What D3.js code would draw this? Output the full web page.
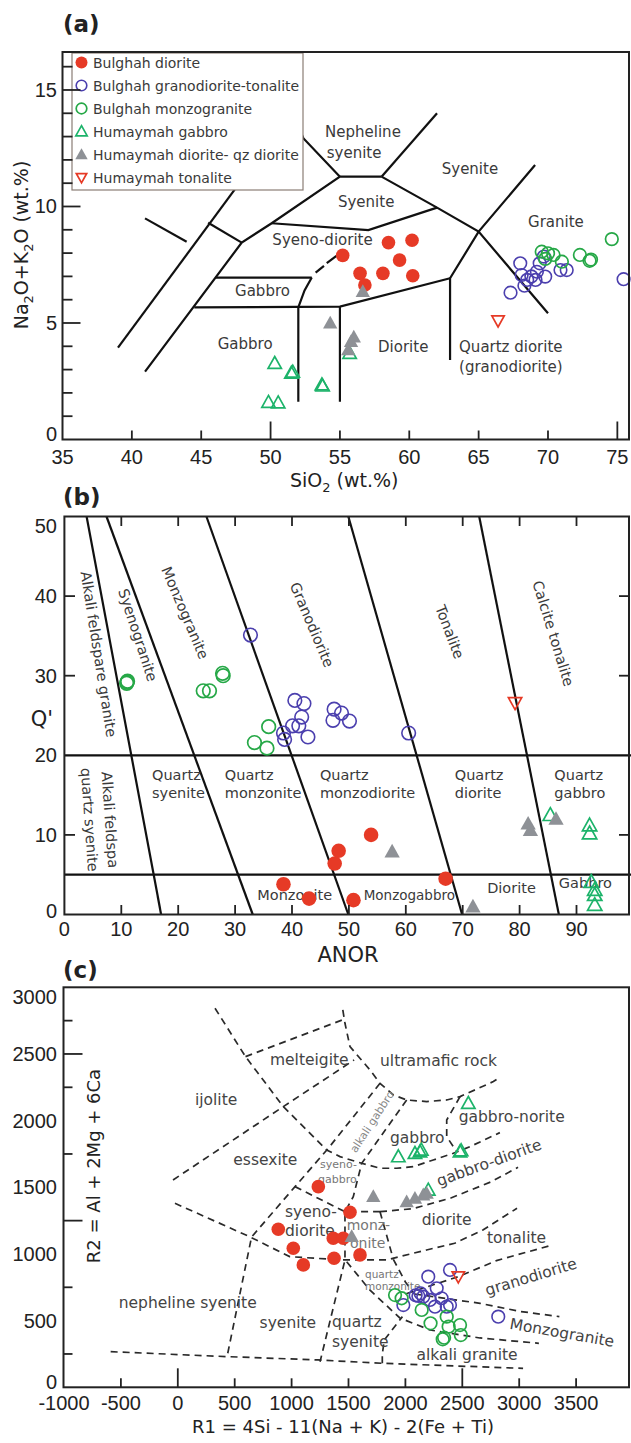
<!DOCTYPE html>
<html>
<head>
<meta charset="utf-8">
<script src="https://cdn.jsdelivr.net/npm/d3@7"></script>
<style>body{margin:0;background:#fff}</style>
</head>
<body>
<script>
// ---------- (a) TAS data ----------
var tasBulghahDiorite = [[55.2,7.9],[58.5,8.45],[60.2,8.55],[59.3,7.7],[56.45,7.13],[58.1,7.13],[60.25,7.03],[56.8,6.63]];
var tasGranodiorite = [[67.3,6.3],[68.0,7.56],[68.1,7.06],[68.5,6.85],[68.3,6.6],[69.1,6.85],[69.4,7.56],[69.8,6.99],[69.7,7.85],[69.2,7.2],[70.9,7.27],[71.35,7.27],[75.45,6.88],[68.8,7.0]];
var tasMonzogranite = [[69.55,8.06],[70.0,7.99],[70.4,7.92],[71.0,7.63],[72.3,7.92],[73.0,7.67],[73.1,7.72],[74.6,8.6],[69.8,7.75]];
var tasGabbro = [[50.3,3.27],[51.5,2.85],[51.6,2.9],[53.7,2.35],[53.75,2.3],[49.85,1.6],[50.55,1.58],[55.7,3.7]];
var tasQzDiorite = [[56.65,6.35],[54.3,5.0],[56.0,4.4],[55.8,4.2],[55.6,3.85]];
var tasTonalite = [[66.4,5.1]];
var tasLines = [
  [[39.0,3.94],[48.5,11.6]],
  [[40.95,2.91],[47.92,8.45],[50.08,9.28],[55.0,11.28],[58.0,11.28]],
  [[40.95,9.49],[43.95,8.49]],
  [[45.5,9.3],[47.92,8.45]],
  [[51.3,14.5],[52.36,12.93],[55.0,11.28]],
  [[58.0,11.28],[62.0,14.0]],
  [[58.0,11.28],[62.0,9.95],[65.0,8.92],[70.0,5.42]],
  [[69.07,11.78],[65.0,8.92],[62.94,6.92],[62.94,3.41]],
  [[50.08,9.28],[57.05,8.99],[62.0,9.95]],
  [[44.5,5.67],[55.0,5.70],[62.94,6.92]],
  [[55.0,5.70],[55.0,1.62]],
  [[52.0,5.67],[52.0,1.62]],
  [[46.05,6.95],[52.97,6.95]],
  [[52.0,5.67],[52.45,6.4],[52.97,6.95]],
  [[53.25,7.16],[53.85,7.45]],
  [[54.05,7.57],[54.75,7.88]]
];
var tasLabels = [
  ['Nepheline',53.93,12.98],['syenite',54.05,12.08],['Syenite',62.34,11.39],['Syenite',54.86,9.98],
  ['Syeno-diorite',50.13,8.35],['Gabbro',47.44,6.16],['Gabbro',46.19,3.88],['Diorite',57.75,3.77],
  ['Quartz diorite',63.59,3.76],['(granodiorite)',63.59,2.9],['Granite',68.56,9.12]
];
var tasXTicks = [35,40,45,50,55,60,65,70,75];
var tasYTicks = [0,5,10,15];
var legendNames = ['Bulghah diorite','Bulghah granodiorite-tonalite','Bulghah monzogranite','Humaymah gabbro','Humaymah diorite- qz diorite','Humaymah tonalite'];

// ---------- (b) Q'-ANOR data ----------
var qaDiorite = [[53.9,10.0],[48.2,8.0],[47.5,6.4],[38.5,3.8],[43.0,2.0],[50.8,1.8],[67.0,4.5]];
var qaGranodiorite = [[32.7,35.1],[40.5,26.9],[42.1,26.5],[41.7,24.8],[40.1,23.7],[41.2,23.7],[38.5,22.8],[38.7,22.0],[42.8,22.3],[47.4,25.8],[48.7,25.3],[47.2,24.4],[50.1,24.3],[60.5,22.8]];
var qaMonzogranite = [[10.95,29.05],[11.1,29.3],[11.0,29.2],[24.4,28.1],[25.5,28.1],[27.8,30.3],[27.9,30.0],[35.9,23.6],[33.4,21.6],[35.6,20.9]];
var qaGabbro = [[85.4,12.5],[92.3,11.2],[92.3,10.2],[92.6,4.1],[93.2,3.1],[93.2,2.45],[93.2,1.2]];
var qaQzDiorite = [[57.6,7.9],[81.5,11.4],[81.9,10.6],[86.4,12.0],[71.8,1.0]];
var qaTonalite = [[79.2,26.6]];
var qaLines = [
  [[3.9,50],[17.0,0]],[[7.4,50],[33.1,0]],[[24.96,50],[49.9,0]],[[49.9,50],[69.9,0]],[[72.9,50],[86.9,0]],
  [[0,20],[100,20]],[[0,5],[100,5]]
];
var qaRotLabels = [
  ['Alkali feldspare granite',6.0,32.7,81],['Syenogranite',12.9,35.1,72],['Monzogranite',21.2,37.9,67],
  ['Granodiorite',43.5,36.4,67],['Tonalite',67.7,35.5,69],['Calcite tonalite',85.9,35.3,73],
  ['Alkali feldspa',8.0,11.9,86],['quartz syenite',4.4,11.9,86]
];
var qaLabels = [
  ['Quartz',15.4,16.9],['syenite',15.4,14.6],['Quartz',28.2,16.9],['monzonite',28.2,14.6],
  ['Quartz',44.9,16.9],['monzodiorite',44.9,14.6],['Quartz',68.6,16.9],['diorite',68.6,14.6],
  ['Quartz',86.1,16.9],['gabbro',86.1,14.6],['Monzonite',33.9,1.8],['Diorite',74.3,2.7],['Gabbro',86.9,3.3]
];
var qaXTicks = [0,10,20,30,40,50,60,70,80,90];
var qaYTicks = [0,10,20,30,40,50];

// ---------- (c) R1-R2 data ----------
var raDiorite = [[1235,1505],[1513,1313],[883,1185],[1366,1118],[1454,1118],[1015,1043],[1373,968],[1601,993],[1103,918]];
var raGranodiorite = [[2392,880],[2201,830],[2275,743],[2114,685],[2157,680],[2216,655],[2318,668],[2363,605],[2392,617],[2260,605],[1982,617],[2816,530],[2090,690],[2133,705]];
var raMonzogranite = [[1909,692],[1967,668],[2143,580],[2221,480],[2363,530],[2380,455],[2480,467],[2487,392],[2328,360],[2340,372]];
var raGabbro = [[2553,2130],[1938,1730],[2084,1755],[2128,1767],[2140,1780],[2480,1767],[2490,1775],[2201,1480]];
var raQzDiorite = [[1718,1430],[2011,1392],[2084,1418],[2157,1443],[2187,1455],[1528,1130]];
var raTonalite = [[2465,830]];
var raLines = [
  [[-42,1555],[927,2105],[1549,2455]],
  [[595,2480],[1460,2760]],
  [[1450,2830],[1469,2730],[1513,2555],[1689,2380],[1777,2280],[1894,2193],[2011,2155],[2187,2143],[2363,2155],[2480,2180],[2773,2293],[2820,2320]],
  [[327,2843],[595,2480],[927,2105],[1308,1780],[1425,1730],[1616,1680],[1777,1643],[1923,1643],[2069,1655],[2245,1705],[2421,1755],[2568,1805],[2830,1910]],
  [[1777,2280],[1323,1793],[1030,1505],[648,1127],[436,243]],
  [[2011,2155],[1616,1680],[1542,1430],[1469,1317],[1469,955],[1250,192]],
  [[1030,1505],[1469,1317],[1777,1317]],
  [[-25,1380],[630,1130],[983,980],[1443,955],[1832,955],[2186,1030],[2433,1080],[2681,1180],[2981,1343]],
  [[1777,1317],[1894,960]],
  [[1777,1317],[2069,1340],[2400,1420],[2750,1540],[2990,1650]],
  [[2480,2180],[2363,2005],[2363,1880],[2451,1767]],
  [[-590,267],[436,230],[1231,205],[1797,180],[3034,142]],
  [[1797,180],[1797,250],[1815,355],[1974,530]],
  [[1484,942],[1687,730],[1951,520],[2215,430],[2654,370],[3173,330]],
  [[1894,960],[2000,790],[2080,700]],
  [[2000,700],[2465,830],[2800,950],[3260,1060]],
  [[2080,700],[2400,660],[2656,630],[3000,570],[3353,530]]
];
var raLabels = [
  ['melteigite',810,2418],['ultramafic rock',1777,2410],['ijolite',151,2118],['essexite',488,1668],
  ['gabbro',1865,1833],['gabbro-norite',2468,1990],['syeno-',942,1278],['diorite',942,1135],
  ['diorite',2143,1218],['tonalite',2717,1083],['nepheline syenite',-519,595],['syenite',719,445],
  ['quartz',1355,453],['syenite',1355,303],['alkali granite',2098,205]
];
var raSmallLabels = [['syeno-',1250,1645],['gabbro',1232,1533],['monz-',1484,1180],['onite',1513,1045],['quartz',1645,820],['monzonite',1645,730]];
var raRotLabels = [['gabbro-diorite',2735,1683,-20],['alkali gabbro',1698,1997,-57],['granodiorite',3104,827,-17],['Monzogranite',3376,408,10]];
var raXTicks = [-1000,-500,0,500,1000,1500,2000,2500,3000,3500];
var raYTicks = [0,500,1000,1500,2000,2500,3000];

// ---------- drawing ----------
var red = '#e63a26', blue = '#4b3fae', green = '#26a847', teal = '#1cb36a', gray = '#8e9196';
var ink = '#222', txt = '#3a3a3a';
var tickFont = 'Liberation Sans, Arial, sans-serif';

var svg = d3.select('body').append('svg')
    .attr('width', 631).attr('height', 1443)
    .style('font-family', 'DejaVu Sans, sans-serif');

function triPath(cx, cy, s, down) {
  var k = down ? -1 : 1;
  return 'M' + cx + ',' + (cy - k * s) + 'L' + (cx + s * 0.98) + ',' + (cy + k * s * 0.75) +
         'L' + (cx - s * 0.98) + ',' + (cy + k * s * 0.75) + 'Z';
}

function drawPoints(g, x, y, pts, kind, r) {
  pts.forEach(function(d) {
    var cx = x(d[0]), cy = y(d[1]);
    if (kind === 'dot') g.append('circle').attr('cx', cx).attr('cy', cy).attr('r', r).attr('fill', red);
    if (kind === 'blue') g.append('circle').attr('cx', cx).attr('cy', cy).attr('r', r).attr('fill', 'none').attr('stroke', blue).attr('stroke-width', 1.6);
    if (kind === 'green') g.append('circle').attr('cx', cx).attr('cy', cy).attr('r', r).attr('fill', 'none').attr('stroke', green).attr('stroke-width', 1.7);
    if (kind === 'tri') g.append('path').attr('d', triPath(cx, cy, r + 0.5)).attr('fill', 'none').attr('stroke', teal).attr('stroke-width', 1.7);
    if (kind === 'gray') g.append('path').attr('d', triPath(cx, cy, r + 1)).attr('fill', gray);
    if (kind === 'ton') g.append('path').attr('d', triPath(cx, cy, r, true)).attr('fill', 'none').attr('stroke', red).attr('stroke-width', 1.7);
  });
}

function drawAll(g, x, y, sets, r) {
  drawPoints(g, x, y, sets[0], 'dot', r + 0.5);
  drawPoints(g, x, y, sets[1], 'blue', r);
  drawPoints(g, x, y, sets[2], 'green', r);
  drawPoints(g, x, y, sets[3], 'tri', r);
  drawPoints(g, x, y, sets[4], 'gray', r);
  drawPoints(g, x, y, sets[5], 'ton', r);
}

function tick(g, x1, y1, x2, y2) {
  g.append('line').attr('x1', x1).attr('y1', y1).attr('x2', x2).attr('y2', y2)
    .attr('stroke', ink).attr('stroke-width', 1.8);
}

function label(g, t, x, y, size, anchor, fill) {
  return g.append('text').attr('x', x).attr('y', y).attr('font-size', size)
    .attr('text-anchor', anchor || 'start').attr('fill', fill || ink).text(t);
}

function tickLabel(g, t, x, y, anchor) {
  return label(g, t, x, y, 20, anchor).attr('font-family', tickFont);
}

// ===== panel (a) =====
var xA = d3.scaleLinear().domain([35, 75.84]).range([62.5, 629]);
var yA = d3.scaleLinear().domain([0, 16.63]).range([439.5, 52]);
var gA = svg.append('g');
var lineA = d3.line().x(function(d){ return xA(d[0]); }).y(function(d){ return yA(d[1]); });

gA.selectAll('path.bd').data(tasLines).enter().append('path')
  .attr('class', 'bd').attr('d', lineA).attr('fill', 'none').attr('stroke', '#111').attr('stroke-width', 2.2);

tasLabels.forEach(function(d) { label(gA, d[0], xA(d[1]), yA(d[2]), 15, 'start', txt); });

drawAll(gA, xA, yA, [tasBulghahDiorite, tasGranodiorite, tasMonzogranite, tasGabbro, tasQzDiorite, tasTonalite], 6.3);

// legend
var lg = gA.append('g');
lg.append('rect').attr('x', 72).attr('y', 53).attr('width', 231).attr('height', 137)
  .attr('fill', '#fff').attr('stroke', '#8a7d76').attr('stroke-width', 1.2);
var kinds = ['dot', 'blue', 'green', 'tri', 'gray', 'ton'];
legendNames.forEach(function(n, i) {
  var cy = 62.5 + i * 23;
  var one = d3.scaleLinear().domain([0, 1]).range([81.5, 82.5]);
  var oneY = d3.scaleLinear().domain([0, 1]).range([cy, cy + 1]);
  drawPoints(lg, one, oneY, [[0, 0]], kinds[i], i === 0 ? 6 : 5.3);
  label(lg, n, 93, cy + 5, 14, 'start', txt);
});

gA.append('rect').attr('x', 62.5).attr('y', 52).attr('width', 566.5).attr('height', 387.5)
  .attr('fill', 'none').attr('stroke', ink).attr('stroke-width', 2);

d3.range(1, 17).forEach(function(v) {
  tick(gA, 62.5, yA(v), 62.5 + (v % 5 === 0 ? 18 : 10), yA(v));
});
[40, 45, 50, 55, 60, 65, 70, 75].forEach(function(v) {
  tick(gA, xA(v), 439.5, xA(v), 439.5 - (v === 50 || v === 75 ? 18 : 9));
});
tasXTicks.forEach(function(v) { tickLabel(gA, v, xA(v), 464, 'middle'); });
tasYTicks.forEach(function(v) { tickLabel(gA, v, 57, (v === 0 ? yA(v) - 6 : yA(v)) + 7, 'end'); });

label(gA, '(a)', 63, 32, 23, 'start').attr('font-weight', 'bold');
var tA = label(gA, 'SiO', 290, 487, 19, 'start');
tA.append('tspan').attr('font-size', 13).attr('dy', 5).text('2');
tA.append('tspan').attr('dy', -5).text(' (wt.%)');
var yTa = gA.append('text').attr('transform', 'translate(28,245) rotate(-90)')
  .attr('text-anchor', 'middle').attr('font-size', 19).attr('fill', ink);
yTa.append('tspan').text('Na');
yTa.append('tspan').attr('font-size', 13).attr('dy', 5).text('2');
yTa.append('tspan').attr('dy', -5).text('O+K');
yTa.append('tspan').attr('font-size', 13).attr('dy', 5).text('2');
yTa.append('tspan').attr('dy', -5).text('O (wt.%)');

// ===== panel (b) =====
var xB = d3.scaleLinear().domain([0, 100]).range([64.4, 633.4]);
var yB = d3.scaleLinear().domain([0, 50]).range([914.5, 516.5]);
var gB = svg.append('g');
var lineB = d3.line().x(function(d){ return xB(d[0]); }).y(function(d){ return yB(d[1]); });

gB.selectAll('path.bd').data(qaLines).enter().append('path')
  .attr('class', 'bd').attr('d', lineB).attr('fill', 'none').attr('stroke', '#111').attr('stroke-width', 2.2);

qaRotLabels.forEach(function(d) {
  gB.append('text').attr('transform', 'translate(' + xB(d[1]) + ',' + yB(d[2]) + ') rotate(' + d[3] + ')')
    .attr('text-anchor', 'middle').attr('dy', 5).attr('font-size', 14.5).attr('fill', txt).text(d[0]);
});
qaLabels.forEach(function(d) { label(gB, d[0], xB(d[1]), yB(d[2]), 14.5, 'start', txt); });

drawAll(gB, xB, yB, [qaDiorite, qaGranodiorite, qaMonzogranite, qaGabbro, qaQzDiorite, qaTonalite], 6.8);
label(gB, 'Monzogabbro', xB(52.6), yB(1.8), 13.5, 'start', txt);

gB.append('rect').attr('x', 64.4).attr('y', 516.5).attr('width', 564.6).attr('height', 398)
  .attr('fill', 'none').attr('stroke', ink).attr('stroke-width', 2);
d3.range(10, 100, 10).forEach(function(v) {
  tick(gB, xB(v), 914.5, xB(v), 905);
  tick(gB, xB(v), 516.5, xB(v), 526);
});
[10, 30, 40].forEach(function(v) {
  tick(gB, 64.4, yB(v), 75, yB(v));
  tick(gB, 629, yB(v), 619, yB(v));
});
qaXTicks.forEach(function(v) { tickLabel(gB, v, xB(v), 936, 'middle'); });
qaYTicks.forEach(function(v) {
  var yy = v === 50 ? yB(v) + 9 : (v === 0 ? yB(v) - 4 : yB(v));
  tickLabel(gB, v, 57, yy + 7, 'end');
});
label(gB, '(b)', 63, 505, 23, 'start').attr('font-weight', 'bold');
label(gB, 'ANOR', 348, 962, 21, 'middle');
label(gB, "Q'", 42, 726, 21, 'middle');

// ===== panel (c) =====
var xC = d3.scaleLinear().domain([-1000, 4000]).range([64, 633]);
var yC = d3.scaleLinear().domain([0, 3000]).range([1387.3, 987.3]);
var gC = svg.append('g');
var lineC = d3.line().x(function(d){ return xC(d[0]); }).y(function(d){ return yC(d[1]); });

gC.selectAll('path.bd').data(raLines).enter().append('path')
  .attr('class', 'bd').attr('d', lineC).attr('fill', 'none').attr('stroke', '#2a2a2a')
  .attr('stroke-width', 1.7).attr('stroke-dasharray', '7,5');

raLabels.forEach(function(d) { label(gC, d[0], xC(d[1]), yC(d[2]), 15.5, 'start', '#444'); });
raSmallLabels.forEach(function(d, i) {
  label(gC, d[0], xC(d[1]), yC(d[2]), i < 2 ? 11 : (i < 4 ? 14 : 10.5), 'start', '#777');
});
raRotLabels.forEach(function(d, i) {
  gC.append('text').attr('transform', 'translate(' + xC(d[1]) + ',' + yC(d[2]) + ') rotate(' + d[3] + ')')
    .attr('text-anchor', 'middle').attr('dy', 5).attr('font-size', i === 1 ? 11 : 15.5)
    .attr('fill', i === 1 ? '#888' : '#444').text(d[0]);
});

drawAll(gC, xC, yC, [raDiorite, raGranodiorite, raMonzogranite, raGabbro, raQzDiorite, raTonalite], 6.3);

gC.append('rect').attr('x', 63.5).attr('y', 987.3).attr('width', 565.5).attr('height', 400)
  .attr('fill', 'none').attr('stroke', ink).attr('stroke-width', 2);
d3.range(-500, 4000, 500).forEach(function(v) {
  tick(gC, xC(v), 1387.3, xC(v), 1387.3 - (v === 0 || v === 2500 ? 19 : 9));
});
d3.range(250, 3000, 250).forEach(function(v) {
  if (v % 500 === 0 && v !== 2500) return;
  tick(gC, 63.5, yC(v), 63.5 + (v === 1250 || v === 2500 ? 19 : 9), yC(v));
});
raXTicks.forEach(function(v) { tickLabel(gC, v, xC(v), 1410, 'middle'); });
raYTicks.forEach(function(v) {
  var yy = v === 3000 ? yC(v) + 10 : (v === 0 ? yC(v) - 5 : yC(v));
  tickLabel(gC, v, 57, yy + 7, 'end');
});
label(gC, '(c)', 63, 978, 23, 'start').attr('font-weight', 'bold');
label(gC, 'R1 = 4Si - 11(Na + K) - 2(Fe + Ti)', 343, 1433, 18, 'middle');
gC.append('text').attr('transform', 'translate(100,1166) rotate(-90)')
  .attr('text-anchor', 'middle').attr('font-size', 18).attr('fill', ink).text('R2 = Al + 2Mg + 6Ca');
</script>
</body>
</html>
